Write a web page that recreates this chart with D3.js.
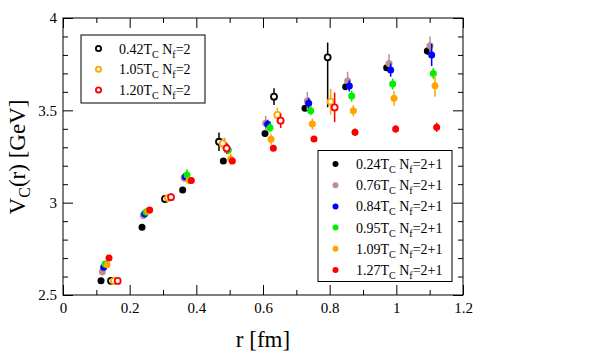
<!DOCTYPE html>
<html>
<head>
<meta charset="utf-8">
<script src="https://cdn.jsdelivr.net/npm/d3@7"></script>
<style>
body { margin: 0; background: #fff; }
text { font-family: "Liberation Serif", "DejaVu Serif", serif; fill: #000; }
</style>
</head>
<body>
<div id="chart"></div>
<script>
const width = 595;
const height = 364;
const marginTop = 18;
const marginRight = 132;
const marginBottom = 69;
const marginLeft = 63;

// N_f = 2+1 (filled symbols): r [fm], V_C [GeV], error
const r024 = [0.114, 0.237, 0.359, 0.481, 0.606, 0.726, 0.848, 0.971, 1.093];
const v024 = [2.577, 2.867, 3.068, 3.226, 3.375, 3.511, 3.628, 3.731, 3.821];
const e024 = [0.01, 0.01, 0.01, 0.015, 0.015, 0.015, 0.015, 0.015, 0.02];

const r076 = [0.118, 0.241, 0.363, 0.485, 0.608, 0.733, 0.854, 0.978, 1.101];
const v076 = [2.626, 2.93, 3.135, 3.31, 3.43, 3.55, 3.659, 3.754, 3.85];
const e076 = [0.02, 0.02, 0.025, 0.04, 0.04, 0.05, 0.05, 0.05, 0.05];

const r084 = [0.122, 0.245, 0.367, 0.489, 0.614, 0.737, 0.859, 0.983, 1.106];
const v084 = [2.65, 2.94, 3.14, 3.30, 3.424, 3.538, 3.632, 3.718, 3.80];
const e084 = [0.015, 0.02, 0.02, 0.025, 0.025, 0.03, 0.03, 0.036, 0.06];

const r095 = [0.126, 0.249, 0.372, 0.496, 0.621, 0.743, 0.866, 0.989, 1.111];
const v095 = [2.668, 2.95, 3.15, 3.285, 3.406, 3.498, 3.577, 3.642, 3.70];
const e095 = [0.015, 0.02, 0.03, 0.025, 0.025, 0.025, 0.03, 0.03, 0.03];

const r109 = [0.132, 0.255, 0.378, 0.503, 0.624, 0.748, 0.871, 0.993, 1.116];
const v109 = [2.664, 2.955, 3.12, 3.236, 3.343, 3.426, 3.498, 3.565, 3.633];
const e109 = [0.015, 0.02, 0.02, 0.03, 0.03, 0.03, 0.03, 0.04, 0.06];

const r127 = [0.138, 0.26, 0.385, 0.508, 0.631, 0.753, 0.876, 0.998, 1.121];
const v127 = [2.70, 2.96, 3.12, 3.226, 3.294, 3.345, 3.381, 3.399, 3.408];
const e127 = [0.01, 0.01, 0.015, 0.015, 0.015, 0.015, 0.02, 0.02, 0.025];

// N_f = 2 (open symbols); an error given as [down, up] is asymmetric
const r042 = [0.144, 0.306, 0.468, 0.633, 0.794];
const v042 = [2.577, 3.02, 3.33, 3.574, 3.787];
const e042 = [0.01, 0.02, 0.05, 0.045, [0.27, 0.08]];

const r105 = [0.153, 0.315, 0.479, 0.643, 0.803];
const v105 = [2.576, 3.025, 3.321, 3.475, 3.547];
const e105 = [0.01, 0.02, 0.03, 0.04, 0.07];

const r120 = [0.164, 0.324, 0.491, 0.653, 0.815];
const v120 = [2.576, 3.03, 3.294, 3.444, 3.516];
const e120 = [0.01, 0.02, 0.03, 0.04, 0.08];

// ticks
const xMajor = [0, 0.2, 0.4, 0.6, 0.8, 1, 1.2];
const xMajorLabels = ["0", "0.2", "0.4", "0.6", "0.8", "1", "1.2"];
const xMinor = [0.1, 0.3, 0.5, 0.7, 0.9, 1.1];
const yMajor = [2.5, 3, 3.5, 4];
const yMajorLabels = ["2.5", "3", "3.5", "4"];
const yMinor = [2.6, 2.7, 2.8, 2.9, 3.1, 3.2, 3.3, 3.4, 3.6, 3.7, 3.8, 3.9];

const filledSeries = [
    { temp: "0.24", nf: "2+1", color: "#000000", r: r024, v: v024, e: e024 },
    { temp: "0.76", nf: "2+1", color: "#bc8f8f", r: r076, v: v076, e: e076 },
    { temp: "0.84", nf: "2+1", color: "#0000ff", r: r084, v: v084, e: e084 },
    { temp: "0.95", nf: "2+1", color: "#00ee00", r: r095, v: v095, e: e095 },
    { temp: "1.09", nf: "2+1", color: "#ffa500", r: r109, v: v109, e: e109 },
    { temp: "1.27", nf: "2+1", color: "#ff0000", r: r127, v: v127, e: e127 }
];
const openSeries = [
    { temp: "0.42", nf: "2", color: "#000000", r: r042, v: v042, e: e042 },
    { temp: "1.05", nf: "2", color: "#ffa500", r: r105, v: v105, e: e105 },
    { temp: "1.20", nf: "2", color: "#ff0000", r: r120, v: v120, e: e120 }
];

const x = d3.scaleLinear([0, 1.2], [marginLeft, width - marginRight]);
const y = d3.scaleLinear([2.5, 4], [height - marginBottom, marginTop]);

const svg = d3.select("#chart")
    .append("svg")
    .attr("width", width)
    .attr("height", height)
    .attr("viewBox", [0, 0, width, height]);

svg.append("rect")
    .attr("width", width)
    .attr("height", height)
    .attr("fill", "#fff");

// axes with inward ticks on all four sides
const addAxis = (axis, transform) => {
    const g = svg.append("g")
        .attr("transform", transform)
        .call(axis);
    g.select(".domain").remove();
    g.selectAll("line").attr("stroke", "#000");
    g.selectAll("text").attr("font-size", "15px").attr("font-family", "Liberation Serif, serif");
    return g;
}

const bottomY = height - marginBottom;
const rightX = width - marginRight;

addAxis(d3.axisBottom(x).tickValues(xMajor).tickSize(-10).tickPadding(7)
    .tickFormat((d, i) => xMajorLabels[i]), `translate(0,${bottomY})`);
addAxis(d3.axisBottom(x).tickValues(xMinor).tickSize(-5).tickFormat(""), `translate(0,${bottomY})`);
addAxis(d3.axisTop(x).tickValues(xMajor).tickSize(-10).tickFormat(""), `translate(0,${marginTop})`);
addAxis(d3.axisTop(x).tickValues(xMinor).tickSize(-5).tickFormat(""), `translate(0,${marginTop})`);

addAxis(d3.axisLeft(y).tickValues(yMajor).tickSize(-10).tickPadding(6)
    .tickFormat((d, i) => yMajorLabels[i]), `translate(${marginLeft},0)`);
addAxis(d3.axisLeft(y).tickValues(yMinor).tickSize(-5).tickFormat(""), `translate(${marginLeft},0)`);
addAxis(d3.axisRight(y).tickValues(yMajor).tickSize(-10).tickFormat(""), `translate(${rightX},0)`);
addAxis(d3.axisRight(y).tickValues(yMinor).tickSize(-5).tickFormat(""), `translate(${rightX},0)`);

svg.append("rect")
    .attr("x", marginLeft)
    .attr("y", marginTop)
    .attr("width", rightX - marginLeft)
    .attr("height", bottomY - marginTop)
    .attr("fill", "none")
    .attr("stroke", "#000")
    .attr("stroke-width", 1);

// axis titles
const yTitle = svg.append("text")
    .attr("transform", `translate(25,157) rotate(-90)`)
    .attr("text-anchor", "middle")
    .attr("font-size", "23px");
yTitle.append("tspan").text("V");
yTitle.append("tspan").attr("dy", 5).attr("font-size", "16px").text("C");
yTitle.append("tspan").attr("dy", -5).text("(r) [GeV]");

svg.append("text")
    .attr("x", (marginLeft + rightX) / 2)
    .attr("y", 347)
    .attr("text-anchor", "middle")
    .attr("font-size", "23px")
    .text("r [fm]");

// data
const errOf = (e) => Array.isArray(e) ? e : [e, e];

const drawSeries = (s, filled) => {
    const pts = s.r.map((r, i) => ({ r: r, v: s.v[i], e: errOf(s.e[i]) }));
    const g = svg.append("g");
    g.selectAll("line")
        .data(pts)
        .enter()
        .append("line")
        .attr("x1", d => x(d.r))
        .attr("x2", d => x(d.r))
        .attr("y1", d => y(d.v - d.e[0]))
        .attr("y2", d => y(d.v + d.e[1]))
        .attr("stroke", s.color)
        .attr("stroke-width", 1.5);
    g.selectAll("circle")
        .data(pts)
        .enter()
        .append("circle")
        .attr("cx", d => x(d.r))
        .attr("cy", d => y(d.v))
        .attr("r", filled ? 3.5 : 3)
        .attr("fill", filled ? s.color : "#fff")
        .attr("stroke", s.color)
        .attr("stroke-width", filled ? 0 : 1.8);
}

filledSeries.forEach(s => drawSeries(s, true));
openSeries.forEach(s => drawSeries(s, false));

// legends
const legendLabel = (sel, s) => {
    sel.append("tspan").text(s.temp + "T");
    sel.append("tspan").attr("dy", 4).attr("font-size", "10px").text("C");
    sel.append("tspan").attr("dy", -4).text(" N");
    sel.append("tspan").attr("dy", 4).attr("font-size", "10px").text("f");
    sel.append("tspan").attr("dy", -4).text("=" + s.nf);
}

const addLegend = (series, left, top, w, h, rowStep, filled) => {
    const legend = svg.append("g").attr("class", "legend");
    legend.append("rect")
        .attr("x", left)
        .attr("y", top)
        .attr("width", w)
        .attr("height", h)
        .attr("fill", "#fff")
        .attr("stroke", "#000")
        .attr("stroke-width", 1);
    const item = legend.selectAll(".legend-item")
        .data(series)
        .enter()
        .append("g")
        .attr("class", "legend-item")
        .attr("transform", (d, i) => `translate(${left},${top + 13.5 + i * rowStep})`);
    item.append("circle")
        .attr("cx", 17.5)
        .attr("r", filled ? 3 : 2.6)
        .attr("fill", d => filled ? d.color : "#fff")
        .attr("stroke", d => d.color)
        .attr("stroke-width", filled ? 0 : 1.8);
    item.append("text")
        .attr("x", 38)
        .attr("y", 5)
        .attr("font-size", "14px")
        .each(function (d) { legendLabel(d3.select(this), d); });
}

addLegend(openSeries, 81, 35, 124, 68, 20.7, false);
addLegend(filledSeries, 318, 150.5, 134, 131, 21.2, true);
</script>
</body>
</html>
